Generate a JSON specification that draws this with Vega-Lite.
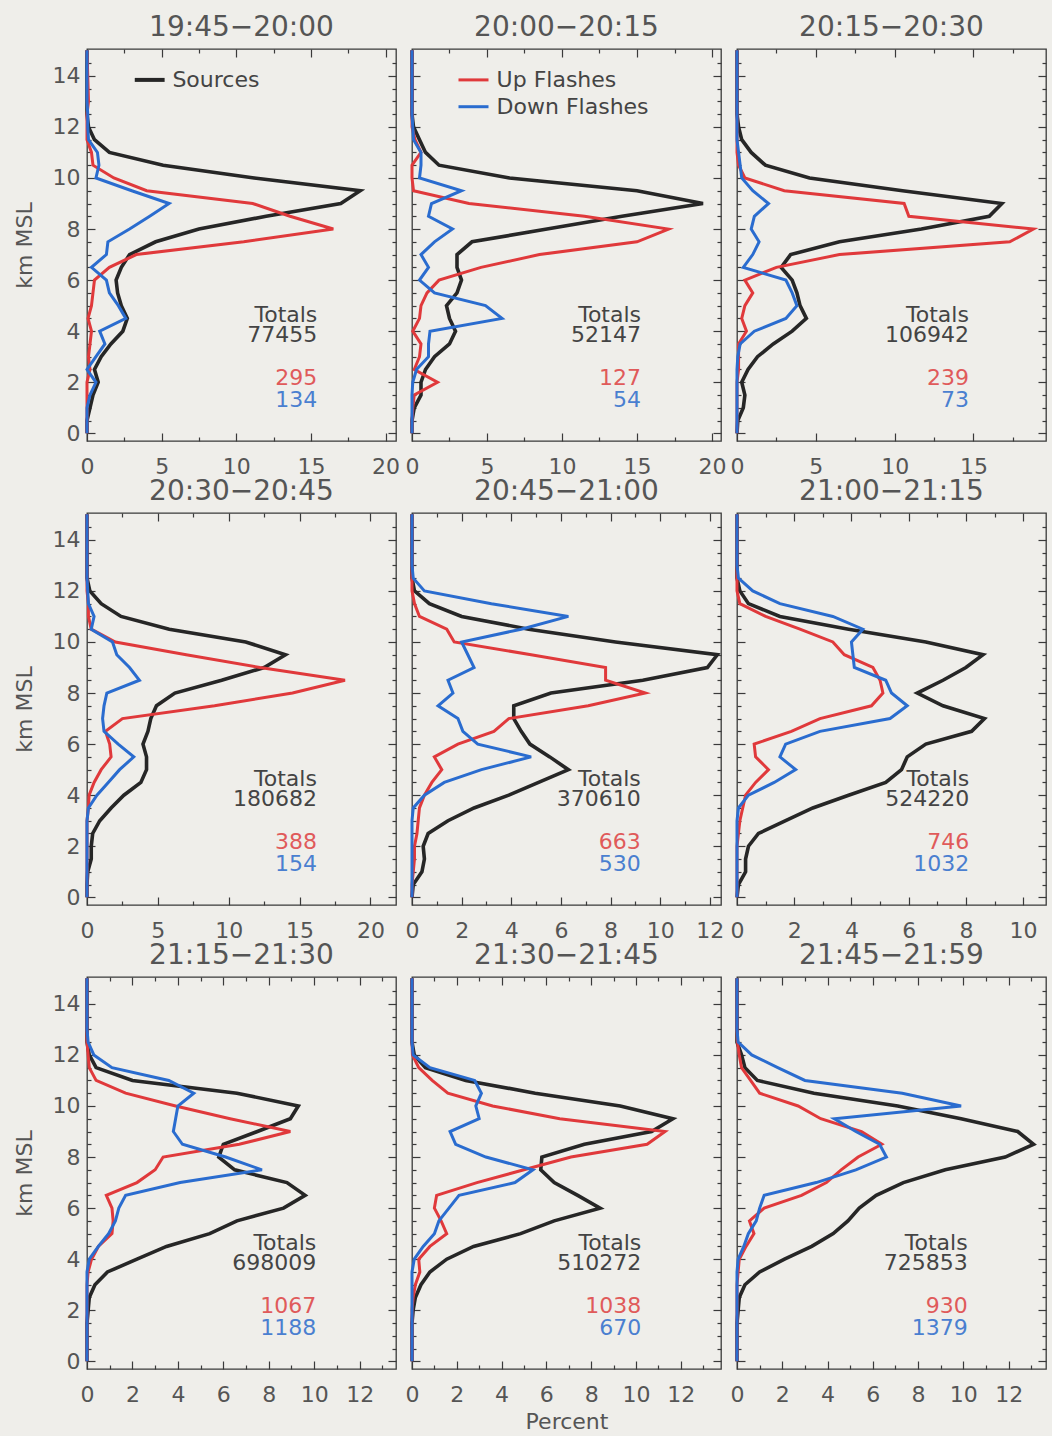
{
"$schema":"https://vega.github.io/schema/vega-lite/v6.json",
"padding":{"left":12,"top":13,"right":5,"bottom":3},
"columns":3,
"bounds":"flush",
"spacing":{"row":72,"column":16},
"datasets":{
"tot":[
{"p":1,"src":"77455","up":"295","dn":"134"},
{"p":2,"src":"52147","up":"127","dn":"54"},
{"p":3,"src":"106942","up":"239","dn":"73"},
{"p":4,"src":"180682","up":"388","dn":"154"},
{"p":5,"src":"370610","up":"663","dn":"530"},
{"p":6,"src":"524220","up":"746","dn":"1032"},
{"p":7,"src":"698009","up":"1067","dn":"1188"},
{"p":8,"src":"510272","up":"1038","dn":"670"},
{"p":9,"src":"725853","up":"930","dn":"1379"}
],
"leg":[{"p":1,"s":"Sources"},{"p":2,"s":"Up Flashes"},{"p":2,"s":"Down Flashes"}],
"prof":[
{"p":1,"h":0,"src":0,"up":0,"dn":0},{"p":1,"h":0.5,"src":0,"up":0,"dn":0},{"p":1,"h":1,"src":0.2,"up":0,"dn":0},{"p":1,"h":1.5,"src":0.4,"up":0,"dn":0.2},{"p":1,"h":2,"src":0.75,"up":0,"dn":0.6},{"p":1,"h":2.5,"src":0.5,"up":0.2,"dn":0},{"p":1,"h":3,"src":0.95,"up":0.1,"dn":0.6},{"p":1,"h":3.5,"src":1.6,"up":0.2,"dn":1.2},{"p":1,"h":4,"src":2.4,"up":0.3,"dn":0.85},{"p":1,"h":4.5,"src":2.7,"up":0.07,"dn":2.6},{"p":1,"h":5,"src":2.3,"up":0.3,"dn":2.1},{"p":1,"h":5.5,"src":2.05,"up":0.4,"dn":1.5},{"p":1,"h":6,"src":1.95,"up":0.5,"dn":1.3},{"p":1,"h":6.5,"src":2.3,"up":1.5,"dn":0.3},{"p":1,"h":7,"src":2.85,"up":3.3,"dn":1.3},{"p":1,"h":7.5,"src":4.6,"up":10.5,"dn":1.4},{"p":1,"h":8,"src":7.5,"up":16.5,"dn":2.85},{"p":1,"h":8.5,"src":12,"up":13.6,"dn":4.2},{"p":1,"h":9,"src":17,"up":11.1,"dn":5.5},{"p":1,"h":9.5,"src":18.3,"up":4,"dn":3},{"p":1,"h":10,"src":11.2,"up":1.8,"dn":0.6},{"p":1,"h":10.5,"src":5.1,"up":0.4,"dn":0.8},{"p":1,"h":11,"src":1.5,"up":0.3,"dn":0.7},{"p":1,"h":11.5,"src":0.5,"up":0,"dn":0.1},{"p":1,"h":12,"src":0.1,"up":0,"dn":0.05},{"p":1,"h":12.5,"src":0,"up":0,"dn":0.05},{"p":1,"h":13,"src":0,"up":0.1,"dn":0},{"p":1,"h":15,"src":0,"up":0,"dn":0},
{"p":2,"h":0,"src":0,"up":0,"dn":0},{"p":2,"h":0.5,"src":0,"up":0,"dn":0},{"p":2,"h":1,"src":0.15,"up":0.05,"dn":0},{"p":2,"h":1.5,"src":0.6,"up":0.15,"dn":0},{"p":2,"h":2,"src":0.6,"up":1.7,"dn":0.05},{"p":2,"h":2.5,"src":0.9,"up":0.15,"dn":0.3},{"p":2,"h":3,"src":1.5,"up":0.5,"dn":1.1},{"p":2,"h":3.5,"src":2.5,"up":0.6,"dn":1.1},{"p":2,"h":4,"src":2.9,"up":0.05,"dn":1.2},{"p":2,"h":4.5,"src":2.5,"up":0.5,"dn":6},{"p":2,"h":5,"src":2.3,"up":0.6,"dn":4.9},{"p":2,"h":5.5,"src":3,"up":1,"dn":1.5},{"p":2,"h":6,"src":3.3,"up":1.8,"dn":0.5},{"p":2,"h":6.5,"src":3,"up":4.6,"dn":1.1},{"p":2,"h":7,"src":3,"up":8.5,"dn":0.6},{"p":2,"h":7.5,"src":4,"up":15,"dn":1.5},{"p":2,"h":8,"src":9,"up":17.1,"dn":2.7},{"p":2,"h":8.5,"src":14,"up":11.5,"dn":1.1},{"p":2,"h":9,"src":19.4,"up":3.8,"dn":1.3},{"p":2,"h":9.5,"src":15,"up":0.1,"dn":3.3},{"p":2,"h":10,"src":6.5,"up":0,"dn":0.5},{"p":2,"h":10.5,"src":1.8,"up":0,"dn":0.6},{"p":2,"h":11,"src":0.9,"up":0.6,"dn":0.6},{"p":2,"h":11.5,"src":0.5,"up":0.2,"dn":0.1},{"p":2,"h":12,"src":0.1,"up":0,"dn":0.05},{"p":2,"h":12.5,"src":0,"up":0,"dn":0},{"p":2,"h":13,"src":0,"up":0,"dn":0},{"p":2,"h":15,"src":0,"up":0,"dn":0},
{"p":3,"h":0,"src":0,"up":0,"dn":0},{"p":3,"h":0.5,"src":0.05,"up":0,"dn":0},{"p":3,"h":1,"src":0.4,"up":0,"dn":0},{"p":3,"h":1.5,"src":0.5,"up":0,"dn":0},{"p":3,"h":2,"src":0.3,"up":0,"dn":0},{"p":3,"h":2.5,"src":0.7,"up":0.1,"dn":0},{"p":3,"h":3,"src":1.3,"up":0.1,"dn":0.05},{"p":3,"h":3.5,"src":2.3,"up":0.1,"dn":0.2},{"p":3,"h":4,"src":3.5,"up":0.6,"dn":1.1},{"p":3,"h":4.5,"src":4.4,"up":0.3,"dn":3.1},{"p":3,"h":5,"src":4,"up":0.5,"dn":3.8},{"p":3,"h":5.5,"src":3.8,"up":1,"dn":3.5},{"p":3,"h":6,"src":3.5,"up":0.5,"dn":3.1},{"p":3,"h":6.5,"src":2.8,"up":2.5,"dn":0.4},{"p":3,"h":7,"src":3.4,"up":6.5,"dn":1},{"p":3,"h":7.5,"src":6.5,"up":17.3,"dn":1.4},{"p":3,"h":8,"src":11.7,"up":18.8,"dn":0.9},{"p":3,"h":8.5,"src":16,"up":10.9,"dn":1.1},{"p":3,"h":9,"src":16.8,"up":10.6,"dn":2},{"p":3,"h":9.5,"src":10.5,"up":3,"dn":1},{"p":3,"h":10,"src":4.6,"up":0.5,"dn":0.3},{"p":3,"h":10.5,"src":1.8,"up":0.1,"dn":0.2},{"p":3,"h":11,"src":0.9,"up":0,"dn":0.1},{"p":3,"h":11.5,"src":0.3,"up":0,"dn":0},{"p":3,"h":12,"src":0.1,"up":0,"dn":0},{"p":3,"h":12.5,"src":0,"up":0,"dn":0},{"p":3,"h":13,"src":0,"up":0,"dn":0},{"p":3,"h":15,"src":0,"up":0,"dn":0},
{"p":4,"h":0,"src":0,"up":0,"dn":0},{"p":4,"h":0.5,"src":0,"up":0,"dn":0},{"p":4,"h":1,"src":0.05,"up":0,"dn":0},{"p":4,"h":1.5,"src":0.3,"up":0,"dn":0},{"p":4,"h":2,"src":0.3,"up":0,"dn":0},{"p":4,"h":2.5,"src":0.4,"up":0,"dn":0},{"p":4,"h":3,"src":0.9,"up":0,"dn":0},{"p":4,"h":3.5,"src":1.7,"up":0.1,"dn":0.1},{"p":4,"h":4,"src":2.6,"up":0.15,"dn":0.7},{"p":4,"h":4.5,"src":3.8,"up":0.5,"dn":1.5},{"p":4,"h":5,"src":4.2,"up":1,"dn":2.3},{"p":4,"h":5.5,"src":4.2,"up":1.7,"dn":3.3},{"p":4,"h":6,"src":3.95,"up":1.6,"dn":2.2},{"p":4,"h":6.5,"src":4.3,"up":1.3,"dn":1.2},{"p":4,"h":7,"src":4.5,"up":2.5,"dn":1.1},{"p":4,"h":7.5,"src":4.9,"up":9,"dn":1.2},{"p":4,"h":8,"src":6.2,"up":14.5,"dn":1.4},{"p":4,"h":8.5,"src":9.5,"up":18.2,"dn":3.7},{"p":4,"h":9,"src":12.5,"up":12.2,"dn":3},{"p":4,"h":9.5,"src":14,"up":7,"dn":2.1},{"p":4,"h":10,"src":11.2,"up":2,"dn":1.8},{"p":4,"h":10.5,"src":5.8,"up":0.3,"dn":0.3},{"p":4,"h":11,"src":2.4,"up":0.1,"dn":0.5},{"p":4,"h":11.5,"src":1,"up":0.1,"dn":0.1},{"p":4,"h":12,"src":0.2,"up":0,"dn":0.05},{"p":4,"h":12.5,"src":0,"up":0,"dn":0},{"p":4,"h":13,"src":0,"up":0,"dn":0},{"p":4,"h":15,"src":0,"up":0,"dn":0},
{"p":5,"h":0,"src":0,"up":0,"dn":0},{"p":5,"h":0.5,"src":0.05,"up":0,"dn":0},{"p":5,"h":1,"src":0.4,"up":0.05,"dn":0},{"p":5,"h":1.5,"src":0.5,"up":0.1,"dn":0},{"p":5,"h":2,"src":0.45,"up":0.1,"dn":0},{"p":5,"h":2.5,"src":0.65,"up":0.2,"dn":0},{"p":5,"h":3,"src":1.45,"up":0.25,"dn":0},{"p":5,"h":3.5,"src":2.5,"up":0.3,"dn":0.05},{"p":5,"h":4,"src":3.9,"up":0.5,"dn":0.5},{"p":5,"h":4.5,"src":5.1,"up":0.8,"dn":1.3},{"p":5,"h":5,"src":6.3,"up":1.2,"dn":2.8},{"p":5,"h":5.5,"src":5.55,"up":0.9,"dn":4.8},{"p":5,"h":6,"src":4.75,"up":1.85,"dn":2.65},{"p":5,"h":6.5,"src":4.4,"up":3.3,"dn":2.05},{"p":5,"h":7,"src":4.1,"up":3.9,"dn":1.85},{"p":5,"h":7.5,"src":4.1,"up":7.1,"dn":1.05},{"p":5,"h":8,"src":5.6,"up":9.4,"dn":1.65},{"p":5,"h":8.5,"src":9.3,"up":7.8,"dn":1.45},{"p":5,"h":9,"src":11.9,"up":7.8,"dn":2.5},{"p":5,"h":9.5,"src":12.3,"up":4.8,"dn":2.25},{"p":5,"h":10,"src":8.2,"up":1.7,"dn":2},{"p":5,"h":10.5,"src":4.7,"up":1.4,"dn":4.4},{"p":5,"h":11,"src":2,"up":0.3,"dn":6.3},{"p":5,"h":11.5,"src":0.7,"up":0.1,"dn":3.2},{"p":5,"h":12,"src":0.1,"up":0,"dn":0.5},{"p":5,"h":12.5,"src":0,"up":0,"dn":0.05},{"p":5,"h":13,"src":0,"up":0,"dn":0},{"p":5,"h":15,"src":0,"up":0,"dn":0},
{"p":6,"h":0,"src":0,"up":0,"dn":0},{"p":6,"h":0.5,"src":0.05,"up":0,"dn":0},{"p":6,"h":1,"src":0.3,"up":0,"dn":0},{"p":6,"h":1.5,"src":0.3,"up":0,"dn":0},{"p":6,"h":2,"src":0.4,"up":0,"dn":0},{"p":6,"h":2.5,"src":0.75,"up":0.05,"dn":0},{"p":6,"h":3,"src":1.7,"up":0.1,"dn":0},{"p":6,"h":3.5,"src":2.65,"up":0.2,"dn":0.05},{"p":6,"h":4,"src":3.9,"up":0.3,"dn":0.4},{"p":6,"h":4.5,"src":5.2,"up":0.65,"dn":1.3},{"p":6,"h":5,"src":5.75,"up":1.1,"dn":2.05},{"p":6,"h":5.5,"src":5.95,"up":0.65,"dn":1.5},{"p":6,"h":6,"src":6.6,"up":0.6,"dn":1.7},{"p":6,"h":6.5,"src":8.2,"up":1.9,"dn":2.9},{"p":6,"h":7,"src":8.65,"up":2.9,"dn":5.35},{"p":6,"h":7.5,"src":7.2,"up":4.7,"dn":5.95},{"p":6,"h":8,"src":6.3,"up":5.1,"dn":5.4},{"p":6,"h":8.5,"src":7.2,"up":5,"dn":5.2},{"p":6,"h":9,"src":8,"up":4.75,"dn":4.1},{"p":6,"h":9.5,"src":8.6,"up":3.75,"dn":4.05},{"p":6,"h":10,"src":6.6,"up":3.35,"dn":4},{"p":6,"h":10.5,"src":3.9,"up":2.2,"dn":4.4},{"p":6,"h":11,"src":1.5,"up":1,"dn":3.35},{"p":6,"h":11.5,"src":0.4,"up":0.1,"dn":1.5},{"p":6,"h":12,"src":0.1,"up":0,"dn":0.55},{"p":6,"h":12.5,"src":0,"up":0,"dn":0.05},{"p":6,"h":13,"src":0,"up":0,"dn":0},{"p":6,"h":15,"src":0,"up":0,"dn":0},
{"p":7,"h":0,"src":0,"up":0,"dn":0},{"p":7,"h":0.5,"src":0,"up":0,"dn":0},{"p":7,"h":1,"src":0,"up":0,"dn":0},{"p":7,"h":1.5,"src":0,"up":0,"dn":0},{"p":7,"h":2,"src":0.05,"up":0,"dn":0},{"p":7,"h":2.5,"src":0.1,"up":0,"dn":0},{"p":7,"h":3,"src":0.35,"up":0,"dn":0},{"p":7,"h":3.5,"src":0.9,"up":0.05,"dn":0},{"p":7,"h":4,"src":2.2,"up":0.2,"dn":0.1},{"p":7,"h":4.5,"src":3.5,"up":0.5,"dn":0.5},{"p":7,"h":5,"src":5.4,"up":1.1,"dn":0.95},{"p":7,"h":5.5,"src":6.6,"up":1.15,"dn":1.25},{"p":7,"h":6,"src":8.65,"up":1.1,"dn":1.4},{"p":7,"h":6.5,"src":9.6,"up":0.85,"dn":1.7},{"p":7,"h":7,"src":8.8,"up":2.2,"dn":4.1},{"p":7,"h":7.5,"src":6.5,"up":3,"dn":7.7},{"p":7,"h":8,"src":5.8,"up":3.35,"dn":6.1},{"p":7,"h":8.5,"src":6,"up":6.7,"dn":4.2},{"p":7,"h":9,"src":7.5,"up":8.95,"dn":3.8},{"p":7,"h":9.5,"src":8.95,"up":6.3,"dn":3.9},{"p":7,"h":10,"src":9.3,"up":3.9,"dn":4},{"p":7,"h":10.5,"src":6.6,"up":1.7,"dn":4.7},{"p":7,"h":11,"src":2,"up":0.4,"dn":3.6},{"p":7,"h":11.5,"src":0.4,"up":0.1,"dn":1.1},{"p":7,"h":12,"src":0.1,"up":0.05,"dn":0.3},{"p":7,"h":12.5,"src":0,"up":0,"dn":0.05},{"p":7,"h":13,"src":0,"up":0,"dn":0},{"p":7,"h":15,"src":0,"up":0,"dn":0},
{"p":8,"h":0,"src":0,"up":0,"dn":0},{"p":8,"h":0.5,"src":0,"up":0,"dn":0},{"p":8,"h":1,"src":0,"up":0,"dn":0},{"p":8,"h":1.5,"src":0,"up":0,"dn":0},{"p":8,"h":2,"src":0.05,"up":0,"dn":0},{"p":8,"h":2.5,"src":0.15,"up":0.05,"dn":0},{"p":8,"h":3,"src":0.4,"up":0.15,"dn":0},{"p":8,"h":3.5,"src":0.8,"up":0.35,"dn":0},{"p":8,"h":4,"src":1.55,"up":0.3,"dn":0.1},{"p":8,"h":4.5,"src":2.75,"up":0.8,"dn":0.5},{"p":8,"h":5,"src":4.85,"up":1.55,"dn":1},{"p":8,"h":5.5,"src":6.35,"up":1.3,"dn":1.2},{"p":8,"h":6,"src":8.4,"up":1,"dn":1.65},{"p":8,"h":6.5,"src":7.4,"up":1.1,"dn":2.1},{"p":8,"h":7,"src":6.35,"up":2.9,"dn":4.6},{"p":8,"h":7.5,"src":5.75,"up":5,"dn":5.4},{"p":8,"h":8,"src":5.8,"up":7.1,"dn":3.3},{"p":8,"h":8.5,"src":7.7,"up":10.5,"dn":1.95},{"p":8,"h":9,"src":10.7,"up":11.3,"dn":1.7},{"p":8,"h":9.5,"src":11.65,"up":6.6,"dn":3},{"p":8,"h":10,"src":9.3,"up":3.6,"dn":2.85},{"p":8,"h":10.5,"src":5.5,"up":1.6,"dn":3.1},{"p":8,"h":11,"src":2.4,"up":0.9,"dn":2.8},{"p":8,"h":11.5,"src":0.6,"up":0.3,"dn":0.8},{"p":8,"h":12,"src":0.1,"up":0.02,"dn":0.05},{"p":8,"h":12.5,"src":0,"up":0,"dn":0},{"p":8,"h":13,"src":0,"up":0,"dn":0},{"p":8,"h":15,"src":0,"up":0,"dn":0},
{"p":9,"h":0,"src":0,"up":0,"dn":0},{"p":9,"h":0.5,"src":0,"up":0,"dn":0},{"p":9,"h":1,"src":0,"up":0,"dn":0},{"p":9,"h":1.5,"src":0,"up":0,"dn":0},{"p":9,"h":2,"src":0.05,"up":0,"dn":0},{"p":9,"h":2.5,"src":0.1,"up":0,"dn":0},{"p":9,"h":3,"src":0.35,"up":0,"dn":0},{"p":9,"h":3.5,"src":1,"up":0.05,"dn":0},{"p":9,"h":4,"src":2.1,"up":0.1,"dn":0.05},{"p":9,"h":4.5,"src":3.3,"up":0.4,"dn":0.3},{"p":9,"h":5,"src":4.25,"up":0.75,"dn":0.5},{"p":9,"h":5.5,"src":4.9,"up":0.55,"dn":0.85},{"p":9,"h":6,"src":5.4,"up":1.2,"dn":1},{"p":9,"h":6.5,"src":6.15,"up":2.85,"dn":1.2},{"p":9,"h":7,"src":7.35,"up":3.95,"dn":3.5},{"p":9,"h":7.5,"src":9.2,"up":4.6,"dn":5.25},{"p":9,"h":8,"src":11.85,"up":5.35,"dn":6.6},{"p":9,"h":8.5,"src":13.1,"up":6.4,"dn":6.3},{"p":9,"h":9,"src":12.4,"up":5.5,"dn":5.25},{"p":9,"h":9.5,"src":9.9,"up":3.7,"dn":4.3},{"p":9,"h":10,"src":7.1,"up":2.7,"dn":9.9},{"p":9,"h":10.5,"src":3.4,"up":1,"dn":7.3},{"p":9,"h":11,"src":0.9,"up":0.6,"dn":3},{"p":9,"h":11.5,"src":0.35,"up":0.2,"dn":1.8},{"p":9,"h":12,"src":0.2,"up":0.1,"dn":0.65},{"p":9,"h":12.5,"src":0,"up":0.02,"dn":0.05},{"p":9,"h":13,"src":0,"up":0,"dn":0},{"p":9,"h":15,"src":0,"up":0,"dn":0}
]
},
"concat":[
{"width":309,"height":392,"title":"19:45−20:00","resolve":{"axis":{"x":"independent","y":"independent"}},
"layer":[
{"data":{"name":"prof"},"transform":[{"filter":"datum.p==1"}],"mark":{"type":"line","color":"#262626","strokeWidth":3.6},"encoding":{"x":{"field":"src","type":"quantitative","scale":{"domain":[0,20.7],"nice":false,"zero":false},"axis":{"orient":"bottom","values":[0,5,10,15,20],"labels":true,"ticks":false,"title":null}},"y":{"field":"h","type":"quantitative","scale":{"domain":[-0.3,15.05],"nice":false,"zero":false},"axis":{"orient":"left","values":[0,2,4,6,8,10,12,14],"labels":true,"ticks":false,"title":"km MSL"}},"order":{"field":"h","type":"quantitative"}}},
{"data":{"name":"prof"},"transform":[{"filter":"datum.p==1"}],"mark":{"type":"line","color":"#e0393b","strokeWidth":3},"encoding":{"x":{"field":"up","type":"quantitative","axis":{"orient":"bottom","values":[0,5,10,15,20],"title":null}},"y":{"field":"h","type":"quantitative","axis":{"orient":"left","values":[0,2,4,6,8,10,12,14],"title":null}},"order":{"field":"h","type":"quantitative"}}},
{"data":{"name":"prof"},"transform":[{"filter":"datum.p==1"}],"mark":{"type":"line","color":"#2a6ccf","strokeWidth":3},"encoding":{"x":{"field":"dn","type":"quantitative","axis":{"orient":"top","values":[0,5,10,15,20],"title":null}},"y":{"field":"h","type":"quantitative","axis":{"orient":"right","values":[0,2,4,6,8,10,12,14],"title":null}},"order":{"field":"h","type":"quantitative"}}},
{"data":{"name":"tot"},"transform":[{"filter":"datum.p==1"}],"mark":{"type":"text","align":"right","baseline":"middle","color":"#444","text":"Totals"},"encoding":{"x":{"datum":15.43,"type":"quantitative","axis":{"orient":"bottom","values":[2.5,7.5,12.5,17.5],"tickSize":-4,"title":null}},"y":{"datum":4.65,"type":"quantitative","axis":{"orient":"left","values":[0.5,1,1.5,2.5,3,3.5,4.5,5,5.5,6.5,7,7.5,8.5,9,9.5,10.5,11,11.5,12.5,13,13.5,14.5],"tickSize":-4,"title":null}}}},
{"data":{"name":"tot"},"transform":[{"filter":"datum.p==1"}],"mark":{"type":"text","align":"right","baseline":"middle","color":"#444"},"encoding":{"text":{"field":"src","type":"nominal"},"x":{"datum":15.43,"type":"quantitative","axis":{"orient":"top","values":[2.5,7.5,12.5,17.5],"tickSize":-4,"title":null}},"y":{"datum":3.85,"type":"quantitative","axis":{"orient":"right","values":[0.5,1,1.5,2.5,3,3.5,4.5,5,5.5,6.5,7,7.5,8.5,9,9.5,10.5,11,11.5,12.5,13,13.5,14.5],"tickSize":-4,"title":null}}}},
{"data":{"name":"tot"},"transform":[{"filter":"datum.p==1"}],"mark":{"type":"text","align":"right","baseline":"middle","color":"#e05a5a"},"encoding":{"text":{"field":"up","type":"nominal"},"x":{"datum":15.43,"type":"quantitative","axis":null},"y":{"datum":2.15,"type":"quantitative","axis":null}}},
{"data":{"name":"tot"},"transform":[{"filter":"datum.p==1"}],"mark":{"type":"text","align":"right","baseline":"middle","color":"#4a7fd0"},"encoding":{"text":{"field":"dn","type":"nominal"},"x":{"datum":15.43,"type":"quantitative","axis":null},"y":{"datum":1.3,"type":"quantitative","axis":null}}},
{"data":{"name":"leg"},"transform":[{"filter":"datum.s=='Sources'"}],"mark":{"type":"rule","color":"#262626","strokeWidth":4},"encoding":{"x":{"datum":3.2,"type":"quantitative","axis":null},"x2":{"datum":5.2},"y":{"datum":13.84,"type":"quantitative","axis":null}}},
{"data":{"name":"leg"},"transform":[{"filter":"datum.s=='Sources'"}],"mark":{"type":"text","align":"left","baseline":"middle","color":"#444"},"encoding":{"text":{"field":"s","type":"nominal"},"x":{"datum":5.72,"type":"quantitative","axis":null},"y":{"datum":13.84,"type":"quantitative","axis":null}}}
]},
{"width":309,"height":392,"title":"20:00−20:15","resolve":{"axis":{"x":"independent","y":"independent"}},
"layer":[
{"data":{"name":"prof"},"transform":[{"filter":"datum.p==2"}],"mark":{"type":"line","color":"#262626","strokeWidth":3.6},"encoding":{"x":{"field":"src","type":"quantitative","scale":{"domain":[0,20.6],"nice":false,"zero":false},"axis":{"orient":"bottom","values":[0,5,10,15,20],"labels":true,"ticks":false,"title":null}},"y":{"field":"h","type":"quantitative","scale":{"domain":[-0.3,15.05],"nice":false,"zero":false},"axis":null},"order":{"field":"h","type":"quantitative"}}},
{"data":{"name":"prof"},"transform":[{"filter":"datum.p==2"}],"mark":{"type":"line","color":"#e0393b","strokeWidth":3},"encoding":{"x":{"field":"up","type":"quantitative","axis":{"orient":"bottom","values":[0,5,10,15,20],"title":null}},"y":{"field":"h","type":"quantitative","axis":{"orient":"left","values":[0,2,4,6,8,10,12,14],"title":null}},"order":{"field":"h","type":"quantitative"}}},
{"data":{"name":"prof"},"transform":[{"filter":"datum.p==2"}],"mark":{"type":"line","color":"#2a6ccf","strokeWidth":3},"encoding":{"x":{"field":"dn","type":"quantitative","axis":{"orient":"top","values":[0,5,10,15,20],"title":null}},"y":{"field":"h","type":"quantitative","axis":{"orient":"right","values":[0,2,4,6,8,10,12,14],"title":null}},"order":{"field":"h","type":"quantitative"}}},
{"data":{"name":"tot"},"transform":[{"filter":"datum.p==2"}],"mark":{"type":"text","align":"right","baseline":"middle","color":"#444","text":"Totals"},"encoding":{"x":{"datum":15.27,"type":"quantitative","axis":{"orient":"bottom","values":[2.5,7.5,12.5,17.5],"tickSize":-4,"title":null}},"y":{"datum":4.65,"type":"quantitative","axis":{"orient":"left","values":[0.5,1,1.5,2.5,3,3.5,4.5,5,5.5,6.5,7,7.5,8.5,9,9.5,10.5,11,11.5,12.5,13,13.5,14.5],"tickSize":-4,"title":null}}}},
{"data":{"name":"tot"},"transform":[{"filter":"datum.p==2"}],"mark":{"type":"text","align":"right","baseline":"middle","color":"#444"},"encoding":{"text":{"field":"src","type":"nominal"},"x":{"datum":15.27,"type":"quantitative","axis":{"orient":"top","values":[2.5,7.5,12.5,17.5],"tickSize":-4,"title":null}},"y":{"datum":3.85,"type":"quantitative","axis":{"orient":"right","values":[0.5,1,1.5,2.5,3,3.5,4.5,5,5.5,6.5,7,7.5,8.5,9,9.5,10.5,11,11.5,12.5,13,13.5,14.5],"tickSize":-4,"title":null}}}},
{"data":{"name":"tot"},"transform":[{"filter":"datum.p==2"}],"mark":{"type":"text","align":"right","baseline":"middle","color":"#e05a5a"},"encoding":{"text":{"field":"up","type":"nominal"},"x":{"datum":15.27,"type":"quantitative","axis":null},"y":{"datum":2.15,"type":"quantitative","axis":null}}},
{"data":{"name":"tot"},"transform":[{"filter":"datum.p==2"}],"mark":{"type":"text","align":"right","baseline":"middle","color":"#4a7fd0"},"encoding":{"text":{"field":"dn","type":"nominal"},"x":{"datum":15.27,"type":"quantitative","axis":null},"y":{"datum":1.3,"type":"quantitative","axis":null}}},
{"data":{"name":"leg"},"transform":[{"filter":"datum.s=='Up Flashes'"}],"mark":{"type":"rule","color":"#e0393b","strokeWidth":3},"encoding":{"x":{"datum":3.1,"type":"quantitative","axis":null},"x2":{"datum":5.1},"y":{"datum":13.84,"type":"quantitative","axis":null}}},
{"data":{"name":"leg"},"transform":[{"filter":"datum.s=='Up Flashes'"}],"mark":{"type":"text","align":"left","baseline":"middle","color":"#444"},"encoding":{"text":{"field":"s","type":"nominal"},"x":{"datum":5.64,"type":"quantitative","axis":null},"y":{"datum":13.84,"type":"quantitative","axis":null}}},
{"data":{"name":"leg"},"transform":[{"filter":"datum.s=='Down Flashes'"}],"mark":{"type":"rule","color":"#2a6ccf","strokeWidth":3},"encoding":{"x":{"datum":3.1,"type":"quantitative","axis":null},"x2":{"datum":5.1},"y":{"datum":12.79,"type":"quantitative","axis":null}}},
{"data":{"name":"leg"},"transform":[{"filter":"datum.s=='Down Flashes'"}],"mark":{"type":"text","align":"left","baseline":"middle","color":"#444"},"encoding":{"text":{"field":"s","type":"nominal"},"x":{"datum":5.64,"type":"quantitative","axis":null},"y":{"datum":12.79,"type":"quantitative","axis":null}}}
]},
{"width":309,"height":392,"title":"20:15−20:30","resolve":{"axis":{"x":"independent","y":"independent"}},
"layer":[
{"data":{"name":"prof"},"transform":[{"filter":"datum.p==3"}],"mark":{"type":"line","color":"#262626","strokeWidth":3.6},"encoding":{"x":{"field":"src","type":"quantitative","scale":{"domain":[0,19.6],"nice":false,"zero":false},"axis":{"orient":"bottom","values":[0,5,10,15],"labels":true,"ticks":false,"title":null}},"y":{"field":"h","type":"quantitative","scale":{"domain":[-0.3,15.05],"nice":false,"zero":false},"axis":null},"order":{"field":"h","type":"quantitative"}}},
{"data":{"name":"prof"},"transform":[{"filter":"datum.p==3"}],"mark":{"type":"line","color":"#e0393b","strokeWidth":3},"encoding":{"x":{"field":"up","type":"quantitative","axis":{"orient":"bottom","values":[0,5,10,15],"title":null}},"y":{"field":"h","type":"quantitative","axis":{"orient":"left","values":[0,2,4,6,8,10,12,14],"title":null}},"order":{"field":"h","type":"quantitative"}}},
{"data":{"name":"prof"},"transform":[{"filter":"datum.p==3"}],"mark":{"type":"line","color":"#2a6ccf","strokeWidth":3},"encoding":{"x":{"field":"dn","type":"quantitative","axis":{"orient":"top","values":[0,5,10,15],"title":null}},"y":{"field":"h","type":"quantitative","axis":{"orient":"right","values":[0,2,4,6,8,10,12,14],"title":null}},"order":{"field":"h","type":"quantitative"}}},
{"data":{"name":"tot"},"transform":[{"filter":"datum.p==3"}],"mark":{"type":"text","align":"right","baseline":"middle","color":"#444","text":"Totals"},"encoding":{"x":{"datum":14.71,"type":"quantitative","axis":{"orient":"bottom","values":[2.5,7.5,12.5,17.5],"tickSize":-4,"title":null}},"y":{"datum":4.65,"type":"quantitative","axis":{"orient":"left","values":[0.5,1,1.5,2.5,3,3.5,4.5,5,5.5,6.5,7,7.5,8.5,9,9.5,10.5,11,11.5,12.5,13,13.5,14.5],"tickSize":-4,"title":null}}}},
{"data":{"name":"tot"},"transform":[{"filter":"datum.p==3"}],"mark":{"type":"text","align":"right","baseline":"middle","color":"#444"},"encoding":{"text":{"field":"src","type":"nominal"},"x":{"datum":14.71,"type":"quantitative","axis":{"orient":"top","values":[2.5,7.5,12.5,17.5],"tickSize":-4,"title":null}},"y":{"datum":3.85,"type":"quantitative","axis":{"orient":"right","values":[0.5,1,1.5,2.5,3,3.5,4.5,5,5.5,6.5,7,7.5,8.5,9,9.5,10.5,11,11.5,12.5,13,13.5,14.5],"tickSize":-4,"title":null}}}},
{"data":{"name":"tot"},"transform":[{"filter":"datum.p==3"}],"mark":{"type":"text","align":"right","baseline":"middle","color":"#e05a5a"},"encoding":{"text":{"field":"up","type":"nominal"},"x":{"datum":14.71,"type":"quantitative","axis":null},"y":{"datum":2.15,"type":"quantitative","axis":null}}},
{"data":{"name":"tot"},"transform":[{"filter":"datum.p==3"}],"mark":{"type":"text","align":"right","baseline":"middle","color":"#4a7fd0"},"encoding":{"text":{"field":"dn","type":"nominal"},"x":{"datum":14.71,"type":"quantitative","axis":null},"y":{"datum":1.3,"type":"quantitative","axis":null}}}
]},
{"width":309,"height":392,"title":"20:30−20:45","resolve":{"axis":{"x":"independent","y":"independent"}},
"layer":[
{"data":{"name":"prof"},"transform":[{"filter":"datum.p==4"}],"mark":{"type":"line","color":"#262626","strokeWidth":3.6},"encoding":{"x":{"field":"src","type":"quantitative","scale":{"domain":[0,21.8],"nice":false,"zero":false},"axis":{"orient":"bottom","values":[0,5,10,15,20],"labels":true,"ticks":false,"title":null}},"y":{"field":"h","type":"quantitative","scale":{"domain":[-0.3,15.05],"nice":false,"zero":false},"axis":{"orient":"left","values":[0,2,4,6,8,10,12,14],"labels":true,"ticks":false,"title":"km MSL"}},"order":{"field":"h","type":"quantitative"}}},
{"data":{"name":"prof"},"transform":[{"filter":"datum.p==4"}],"mark":{"type":"line","color":"#e0393b","strokeWidth":3},"encoding":{"x":{"field":"up","type":"quantitative","axis":{"orient":"bottom","values":[0,5,10,15,20],"title":null}},"y":{"field":"h","type":"quantitative","axis":{"orient":"left","values":[0,2,4,6,8,10,12,14],"title":null}},"order":{"field":"h","type":"quantitative"}}},
{"data":{"name":"prof"},"transform":[{"filter":"datum.p==4"}],"mark":{"type":"line","color":"#2a6ccf","strokeWidth":3},"encoding":{"x":{"field":"dn","type":"quantitative","axis":{"orient":"top","values":[0,5,10,15,20],"title":null}},"y":{"field":"h","type":"quantitative","axis":{"orient":"right","values":[0,2,4,6,8,10,12,14],"title":null}},"order":{"field":"h","type":"quantitative"}}},
{"data":{"name":"tot"},"transform":[{"filter":"datum.p==4"}],"mark":{"type":"text","align":"right","baseline":"middle","color":"#444","text":"Totals"},"encoding":{"x":{"datum":16.22,"type":"quantitative","axis":{"orient":"bottom","values":[2.5,7.5,12.5,17.5],"tickSize":-4,"title":null}},"y":{"datum":4.65,"type":"quantitative","axis":{"orient":"left","values":[0.5,1,1.5,2.5,3,3.5,4.5,5,5.5,6.5,7,7.5,8.5,9,9.5,10.5,11,11.5,12.5,13,13.5,14.5],"tickSize":-4,"title":null}}}},
{"data":{"name":"tot"},"transform":[{"filter":"datum.p==4"}],"mark":{"type":"text","align":"right","baseline":"middle","color":"#444"},"encoding":{"text":{"field":"src","type":"nominal"},"x":{"datum":16.22,"type":"quantitative","axis":{"orient":"top","values":[2.5,7.5,12.5,17.5],"tickSize":-4,"title":null}},"y":{"datum":3.85,"type":"quantitative","axis":{"orient":"right","values":[0.5,1,1.5,2.5,3,3.5,4.5,5,5.5,6.5,7,7.5,8.5,9,9.5,10.5,11,11.5,12.5,13,13.5,14.5],"tickSize":-4,"title":null}}}},
{"data":{"name":"tot"},"transform":[{"filter":"datum.p==4"}],"mark":{"type":"text","align":"right","baseline":"middle","color":"#e05a5a"},"encoding":{"text":{"field":"up","type":"nominal"},"x":{"datum":16.22,"type":"quantitative","axis":null},"y":{"datum":2.15,"type":"quantitative","axis":null}}},
{"data":{"name":"tot"},"transform":[{"filter":"datum.p==4"}],"mark":{"type":"text","align":"right","baseline":"middle","color":"#4a7fd0"},"encoding":{"text":{"field":"dn","type":"nominal"},"x":{"datum":16.22,"type":"quantitative","axis":null},"y":{"datum":1.3,"type":"quantitative","axis":null}}}
]},
{"width":309,"height":392,"title":"20:45−21:00","resolve":{"axis":{"x":"independent","y":"independent"}},
"layer":[
{"data":{"name":"prof"},"transform":[{"filter":"datum.p==5"}],"mark":{"type":"line","color":"#262626","strokeWidth":3.6},"encoding":{"x":{"field":"src","type":"quantitative","scale":{"domain":[0,12.45],"nice":false,"zero":false},"axis":{"orient":"bottom","values":[0,2,4,6,8,10,12],"labels":true,"ticks":false,"title":null}},"y":{"field":"h","type":"quantitative","scale":{"domain":[-0.3,15.05],"nice":false,"zero":false},"axis":null},"order":{"field":"h","type":"quantitative"}}},
{"data":{"name":"prof"},"transform":[{"filter":"datum.p==5"}],"mark":{"type":"line","color":"#e0393b","strokeWidth":3},"encoding":{"x":{"field":"up","type":"quantitative","axis":{"orient":"bottom","values":[0,2,4,6,8,10,12],"title":null}},"y":{"field":"h","type":"quantitative","axis":{"orient":"left","values":[0,2,4,6,8,10,12,14],"title":null}},"order":{"field":"h","type":"quantitative"}}},
{"data":{"name":"prof"},"transform":[{"filter":"datum.p==5"}],"mark":{"type":"line","color":"#2a6ccf","strokeWidth":3},"encoding":{"x":{"field":"dn","type":"quantitative","axis":{"orient":"top","values":[0,2,4,6,8,10,12],"title":null}},"y":{"field":"h","type":"quantitative","axis":{"orient":"right","values":[0,2,4,6,8,10,12,14],"title":null}},"order":{"field":"h","type":"quantitative"}}},
{"data":{"name":"tot"},"transform":[{"filter":"datum.p==5"}],"mark":{"type":"text","align":"right","baseline":"middle","color":"#444","text":"Totals"},"encoding":{"x":{"datum":9.22,"type":"quantitative","axis":{"orient":"bottom","values":[1,3,5,7,9,11],"tickSize":-4,"title":null}},"y":{"datum":4.65,"type":"quantitative","axis":{"orient":"left","values":[0.5,1,1.5,2.5,3,3.5,4.5,5,5.5,6.5,7,7.5,8.5,9,9.5,10.5,11,11.5,12.5,13,13.5,14.5],"tickSize":-4,"title":null}}}},
{"data":{"name":"tot"},"transform":[{"filter":"datum.p==5"}],"mark":{"type":"text","align":"right","baseline":"middle","color":"#444"},"encoding":{"text":{"field":"src","type":"nominal"},"x":{"datum":9.22,"type":"quantitative","axis":{"orient":"top","values":[1,3,5,7,9,11],"tickSize":-4,"title":null}},"y":{"datum":3.85,"type":"quantitative","axis":{"orient":"right","values":[0.5,1,1.5,2.5,3,3.5,4.5,5,5.5,6.5,7,7.5,8.5,9,9.5,10.5,11,11.5,12.5,13,13.5,14.5],"tickSize":-4,"title":null}}}},
{"data":{"name":"tot"},"transform":[{"filter":"datum.p==5"}],"mark":{"type":"text","align":"right","baseline":"middle","color":"#e05a5a"},"encoding":{"text":{"field":"up","type":"nominal"},"x":{"datum":9.22,"type":"quantitative","axis":null},"y":{"datum":2.15,"type":"quantitative","axis":null}}},
{"data":{"name":"tot"},"transform":[{"filter":"datum.p==5"}],"mark":{"type":"text","align":"right","baseline":"middle","color":"#4a7fd0"},"encoding":{"text":{"field":"dn","type":"nominal"},"x":{"datum":9.22,"type":"quantitative","axis":null},"y":{"datum":1.3,"type":"quantitative","axis":null}}}
]},
{"width":309,"height":392,"title":"21:00−21:15","resolve":{"axis":{"x":"independent","y":"independent"}},
"layer":[
{"data":{"name":"prof"},"transform":[{"filter":"datum.p==6"}],"mark":{"type":"line","color":"#262626","strokeWidth":3.6},"encoding":{"x":{"field":"src","type":"quantitative","scale":{"domain":[0,10.8],"nice":false,"zero":false},"axis":{"orient":"bottom","values":[0,2,4,6,8,10],"labels":true,"ticks":false,"title":null}},"y":{"field":"h","type":"quantitative","scale":{"domain":[-0.3,15.05],"nice":false,"zero":false},"axis":null},"order":{"field":"h","type":"quantitative"}}},
{"data":{"name":"prof"},"transform":[{"filter":"datum.p==6"}],"mark":{"type":"line","color":"#e0393b","strokeWidth":3},"encoding":{"x":{"field":"up","type":"quantitative","axis":{"orient":"bottom","values":[0,2,4,6,8,10],"title":null}},"y":{"field":"h","type":"quantitative","axis":{"orient":"left","values":[0,2,4,6,8,10,12,14],"title":null}},"order":{"field":"h","type":"quantitative"}}},
{"data":{"name":"prof"},"transform":[{"filter":"datum.p==6"}],"mark":{"type":"line","color":"#2a6ccf","strokeWidth":3},"encoding":{"x":{"field":"dn","type":"quantitative","axis":{"orient":"top","values":[0,2,4,6,8,10],"title":null}},"y":{"field":"h","type":"quantitative","axis":{"orient":"right","values":[0,2,4,6,8,10,12,14],"title":null}},"order":{"field":"h","type":"quantitative"}}},
{"data":{"name":"tot"},"transform":[{"filter":"datum.p==6"}],"mark":{"type":"text","align":"right","baseline":"middle","color":"#444","text":"Totals"},"encoding":{"x":{"datum":8.12,"type":"quantitative","axis":{"orient":"bottom","values":[1,3,5,7,9],"tickSize":-4,"title":null}},"y":{"datum":4.65,"type":"quantitative","axis":{"orient":"left","values":[0.5,1,1.5,2.5,3,3.5,4.5,5,5.5,6.5,7,7.5,8.5,9,9.5,10.5,11,11.5,12.5,13,13.5,14.5],"tickSize":-4,"title":null}}}},
{"data":{"name":"tot"},"transform":[{"filter":"datum.p==6"}],"mark":{"type":"text","align":"right","baseline":"middle","color":"#444"},"encoding":{"text":{"field":"src","type":"nominal"},"x":{"datum":8.12,"type":"quantitative","axis":{"orient":"top","values":[1,3,5,7,9],"tickSize":-4,"title":null}},"y":{"datum":3.85,"type":"quantitative","axis":{"orient":"right","values":[0.5,1,1.5,2.5,3,3.5,4.5,5,5.5,6.5,7,7.5,8.5,9,9.5,10.5,11,11.5,12.5,13,13.5,14.5],"tickSize":-4,"title":null}}}},
{"data":{"name":"tot"},"transform":[{"filter":"datum.p==6"}],"mark":{"type":"text","align":"right","baseline":"middle","color":"#e05a5a"},"encoding":{"text":{"field":"up","type":"nominal"},"x":{"datum":8.12,"type":"quantitative","axis":null},"y":{"datum":2.15,"type":"quantitative","axis":null}}},
{"data":{"name":"tot"},"transform":[{"filter":"datum.p==6"}],"mark":{"type":"text","align":"right","baseline":"middle","color":"#4a7fd0"},"encoding":{"text":{"field":"dn","type":"nominal"},"x":{"datum":8.12,"type":"quantitative","axis":null},"y":{"datum":1.3,"type":"quantitative","axis":null}}}
]},
{"width":309,"height":392,"title":"21:15−21:30","resolve":{"axis":{"x":"independent","y":"independent"}},
"layer":[
{"data":{"name":"prof"},"transform":[{"filter":"datum.p==7"}],"mark":{"type":"line","color":"#262626","strokeWidth":3.6},"encoding":{"x":{"field":"src","type":"quantitative","scale":{"domain":[0,13.6],"nice":false,"zero":false},"axis":{"orient":"bottom","values":[0,2,4,6,8,10,12],"labels":true,"ticks":false,"title":null}},"y":{"field":"h","type":"quantitative","scale":{"domain":[-0.3,15.05],"nice":false,"zero":false},"axis":{"orient":"left","values":[0,2,4,6,8,10,12,14],"labels":true,"ticks":false,"title":"km MSL"}},"order":{"field":"h","type":"quantitative"}}},
{"data":{"name":"prof"},"transform":[{"filter":"datum.p==7"}],"mark":{"type":"line","color":"#e0393b","strokeWidth":3},"encoding":{"x":{"field":"up","type":"quantitative","axis":{"orient":"bottom","values":[0,2,4,6,8,10,12],"title":null}},"y":{"field":"h","type":"quantitative","axis":{"orient":"left","values":[0,2,4,6,8,10,12,14],"title":null}},"order":{"field":"h","type":"quantitative"}}},
{"data":{"name":"prof"},"transform":[{"filter":"datum.p==7"}],"mark":{"type":"line","color":"#2a6ccf","strokeWidth":3},"encoding":{"x":{"field":"dn","type":"quantitative","axis":{"orient":"top","values":[0,2,4,6,8,10,12],"title":null}},"y":{"field":"h","type":"quantitative","axis":{"orient":"right","values":[0,2,4,6,8,10,12,14],"title":null}},"order":{"field":"h","type":"quantitative"}}},
{"data":{"name":"tot"},"transform":[{"filter":"datum.p==7"}],"mark":{"type":"text","align":"right","baseline":"middle","color":"#444","text":"Totals"},"encoding":{"x":{"datum":10.09,"type":"quantitative","axis":{"orient":"bottom","values":[1,3,5,7,9,11,13],"tickSize":-4,"title":null}},"y":{"datum":4.65,"type":"quantitative","axis":{"orient":"left","values":[0.5,1,1.5,2.5,3,3.5,4.5,5,5.5,6.5,7,7.5,8.5,9,9.5,10.5,11,11.5,12.5,13,13.5,14.5],"tickSize":-4,"title":null}}}},
{"data":{"name":"tot"},"transform":[{"filter":"datum.p==7"}],"mark":{"type":"text","align":"right","baseline":"middle","color":"#444"},"encoding":{"text":{"field":"src","type":"nominal"},"x":{"datum":10.09,"type":"quantitative","axis":{"orient":"top","values":[1,3,5,7,9,11,13],"tickSize":-4,"title":null}},"y":{"datum":3.85,"type":"quantitative","axis":{"orient":"right","values":[0.5,1,1.5,2.5,3,3.5,4.5,5,5.5,6.5,7,7.5,8.5,9,9.5,10.5,11,11.5,12.5,13,13.5,14.5],"tickSize":-4,"title":null}}}},
{"data":{"name":"tot"},"transform":[{"filter":"datum.p==7"}],"mark":{"type":"text","align":"right","baseline":"middle","color":"#e05a5a"},"encoding":{"text":{"field":"up","type":"nominal"},"x":{"datum":10.09,"type":"quantitative","axis":null},"y":{"datum":2.15,"type":"quantitative","axis":null}}},
{"data":{"name":"tot"},"transform":[{"filter":"datum.p==7"}],"mark":{"type":"text","align":"right","baseline":"middle","color":"#4a7fd0"},"encoding":{"text":{"field":"dn","type":"nominal"},"x":{"datum":10.09,"type":"quantitative","axis":null},"y":{"datum":1.3,"type":"quantitative","axis":null}}}
]},
{"width":309,"height":392,"title":"21:30−21:45","resolve":{"axis":{"x":"independent","y":"independent"}},
"layer":[
{"data":{"name":"prof"},"transform":[{"filter":"datum.p==8"}],"mark":{"type":"line","color":"#262626","strokeWidth":3.6},"encoding":{"x":{"field":"src","type":"quantitative","scale":{"domain":[0,13.8],"nice":false,"zero":false},"axis":{"orient":"bottom","values":[0,2,4,6,8,10,12],"labels":true,"ticks":false,"title":"Percent"}},"y":{"field":"h","type":"quantitative","scale":{"domain":[-0.3,15.05],"nice":false,"zero":false},"axis":null},"order":{"field":"h","type":"quantitative"}}},
{"data":{"name":"prof"},"transform":[{"filter":"datum.p==8"}],"mark":{"type":"line","color":"#e0393b","strokeWidth":3},"encoding":{"x":{"field":"up","type":"quantitative","axis":{"orient":"bottom","values":[0,2,4,6,8,10,12],"title":null}},"y":{"field":"h","type":"quantitative","axis":{"orient":"left","values":[0,2,4,6,8,10,12,14],"title":null}},"order":{"field":"h","type":"quantitative"}}},
{"data":{"name":"prof"},"transform":[{"filter":"datum.p==8"}],"mark":{"type":"line","color":"#2a6ccf","strokeWidth":3},"encoding":{"x":{"field":"dn","type":"quantitative","axis":{"orient":"top","values":[0,2,4,6,8,10,12],"title":null}},"y":{"field":"h","type":"quantitative","axis":{"orient":"right","values":[0,2,4,6,8,10,12,14],"title":null}},"order":{"field":"h","type":"quantitative"}}},
{"data":{"name":"tot"},"transform":[{"filter":"datum.p==8"}],"mark":{"type":"text","align":"right","baseline":"middle","color":"#444","text":"Totals"},"encoding":{"x":{"datum":10.24,"type":"quantitative","axis":{"orient":"bottom","values":[1,3,5,7,9,11,13],"tickSize":-4,"title":null}},"y":{"datum":4.65,"type":"quantitative","axis":{"orient":"left","values":[0.5,1,1.5,2.5,3,3.5,4.5,5,5.5,6.5,7,7.5,8.5,9,9.5,10.5,11,11.5,12.5,13,13.5,14.5],"tickSize":-4,"title":null}}}},
{"data":{"name":"tot"},"transform":[{"filter":"datum.p==8"}],"mark":{"type":"text","align":"right","baseline":"middle","color":"#444"},"encoding":{"text":{"field":"src","type":"nominal"},"x":{"datum":10.24,"type":"quantitative","axis":{"orient":"top","values":[1,3,5,7,9,11,13],"tickSize":-4,"title":null}},"y":{"datum":3.85,"type":"quantitative","axis":{"orient":"right","values":[0.5,1,1.5,2.5,3,3.5,4.5,5,5.5,6.5,7,7.5,8.5,9,9.5,10.5,11,11.5,12.5,13,13.5,14.5],"tickSize":-4,"title":null}}}},
{"data":{"name":"tot"},"transform":[{"filter":"datum.p==8"}],"mark":{"type":"text","align":"right","baseline":"middle","color":"#e05a5a"},"encoding":{"text":{"field":"up","type":"nominal"},"x":{"datum":10.24,"type":"quantitative","axis":null},"y":{"datum":2.15,"type":"quantitative","axis":null}}},
{"data":{"name":"tot"},"transform":[{"filter":"datum.p==8"}],"mark":{"type":"text","align":"right","baseline":"middle","color":"#4a7fd0"},"encoding":{"text":{"field":"dn","type":"nominal"},"x":{"datum":10.24,"type":"quantitative","axis":null},"y":{"datum":1.3,"type":"quantitative","axis":null}}}
]},
{"width":309,"height":392,"title":"21:45−21:59","resolve":{"axis":{"x":"independent","y":"independent"}},
"layer":[
{"data":{"name":"prof"},"transform":[{"filter":"datum.p==9"}],"mark":{"type":"line","color":"#262626","strokeWidth":3.6},"encoding":{"x":{"field":"src","type":"quantitative","scale":{"domain":[0,13.65],"nice":false,"zero":false},"axis":{"orient":"bottom","values":[0,2,4,6,8,10,12],"labels":true,"ticks":false,"title":null}},"y":{"field":"h","type":"quantitative","scale":{"domain":[-0.3,15.05],"nice":false,"zero":false},"axis":null},"order":{"field":"h","type":"quantitative"}}},
{"data":{"name":"prof"},"transform":[{"filter":"datum.p==9"}],"mark":{"type":"line","color":"#e0393b","strokeWidth":3},"encoding":{"x":{"field":"up","type":"quantitative","axis":{"orient":"bottom","values":[0,2,4,6,8,10,12],"title":null}},"y":{"field":"h","type":"quantitative","axis":{"orient":"left","values":[0,2,4,6,8,10,12,14],"title":null}},"order":{"field":"h","type":"quantitative"}}},
{"data":{"name":"prof"},"transform":[{"filter":"datum.p==9"}],"mark":{"type":"line","color":"#2a6ccf","strokeWidth":3},"encoding":{"x":{"field":"dn","type":"quantitative","axis":{"orient":"top","values":[0,2,4,6,8,10,12],"title":null}},"y":{"field":"h","type":"quantitative","axis":{"orient":"right","values":[0,2,4,6,8,10,12,14],"title":null}},"order":{"field":"h","type":"quantitative"}}},
{"data":{"name":"tot"},"transform":[{"filter":"datum.p==9"}],"mark":{"type":"text","align":"right","baseline":"middle","color":"#444","text":"Totals"},"encoding":{"x":{"datum":10.19,"type":"quantitative","axis":{"orient":"bottom","values":[1,3,5,7,9,11,13],"tickSize":-4,"title":null}},"y":{"datum":4.65,"type":"quantitative","axis":{"orient":"left","values":[0.5,1,1.5,2.5,3,3.5,4.5,5,5.5,6.5,7,7.5,8.5,9,9.5,10.5,11,11.5,12.5,13,13.5,14.5],"tickSize":-4,"title":null}}}},
{"data":{"name":"tot"},"transform":[{"filter":"datum.p==9"}],"mark":{"type":"text","align":"right","baseline":"middle","color":"#444"},"encoding":{"text":{"field":"src","type":"nominal"},"x":{"datum":10.19,"type":"quantitative","axis":{"orient":"top","values":[1,3,5,7,9,11,13],"tickSize":-4,"title":null}},"y":{"datum":3.85,"type":"quantitative","axis":{"orient":"right","values":[0.5,1,1.5,2.5,3,3.5,4.5,5,5.5,6.5,7,7.5,8.5,9,9.5,10.5,11,11.5,12.5,13,13.5,14.5],"tickSize":-4,"title":null}}}},
{"data":{"name":"tot"},"transform":[{"filter":"datum.p==9"}],"mark":{"type":"text","align":"right","baseline":"middle","color":"#e05a5a"},"encoding":{"text":{"field":"up","type":"nominal"},"x":{"datum":10.19,"type":"quantitative","axis":null},"y":{"datum":2.15,"type":"quantitative","axis":null}}},
{"data":{"name":"tot"},"transform":[{"filter":"datum.p==9"}],"mark":{"type":"text","align":"right","baseline":"middle","color":"#4a7fd0"},"encoding":{"text":{"field":"dn","type":"nominal"},"x":{"datum":10.19,"type":"quantitative","axis":null},"y":{"datum":1.3,"type":"quantitative","axis":null}}}
]}
],
"config":{
"background":"#efeeea",
"font":"DejaVu Sans",
"view":{"stroke":"#3a3a3a","strokeWidth":1.3},
"axis":{"domain":false,"grid":false,"labels":false,"labelFont":"DejaVu Sans","labelFontSize":22,"labelColor":"#555","labelFlush":false,"labelOverlap":false,"labelPadding":15,"tickColor":"#3a3a3a","tickWidth":1.2,"tickSize":-8,"titleFont":"DejaVu Sans","titleFontSize":22,"titleFontWeight":"normal","titleColor":"#555","titlePadding":6},
"axisY":{"labelPadding":7,"titlePadding":16},
"title":{"font":"DejaVu Sans","fontSize":28,"fontWeight":"normal","color":"#555","anchor":"middle","offset":1,"baseline":"bottom"},
"text":{"font":"DejaVu Sans","fontSize":22}
}
}
